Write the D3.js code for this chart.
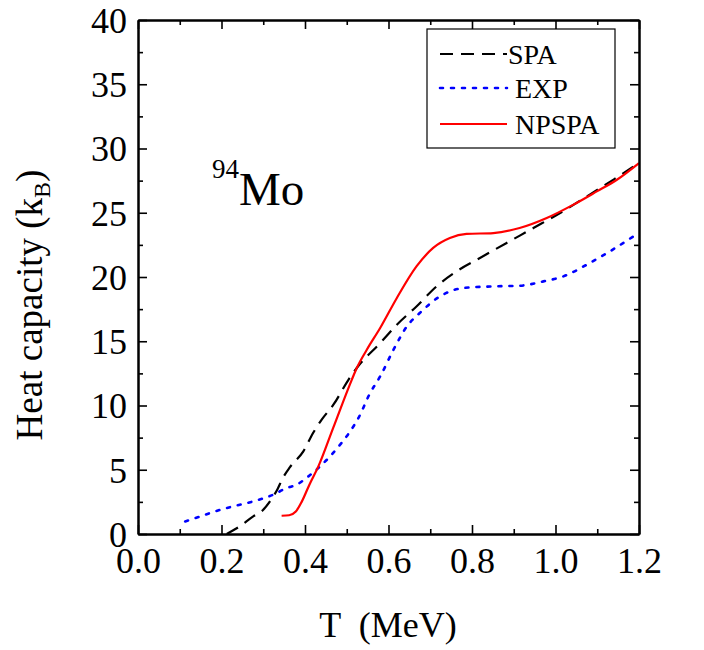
<!DOCTYPE html>
<html>
<head>
<meta charset="utf-8">
<script src="https://cdn.jsdelivr.net/npm/d3@7"></script>
<style>
  html, body { margin: 0; padding: 0; background: #fff; }
  svg { display: block; }
  svg text { font-family: "Liberation Serif", "Times New Roman", Times, serif !important; fill: #000; }
</style>
</head>
<body>
<svg id="chart" width="704" height="650"></svg>
<script>
// ---- data ----
const spaT = [0.2125, 0.244, 0.276, 0.296, 0.319, 0.335, 0.346, 0.364, 0.396, 0.42, 0.44, 0.468, 0.504, 0.524, 0.58, 0.62, 0.667, 0.715, 0.763, 0.819, 0.883, 0.947, 1.011, 1.075, 1.14, 1.2];
const spaC = [0.0, 0.6, 1.37, 1.76, 2.67, 3.55, 4.3, 5.2, 6.43, 7.9, 8.9, 10.06, 12.0, 12.92, 14.86, 16.29, 17.71, 19.27, 20.44, 21.48, 22.65, 23.81, 24.98, 26.27, 27.6, 28.87];

const expT = [0.113, 0.149, 0.18, 0.212, 0.244, 0.276, 0.324, 0.356, 0.38, 0.408, 0.432, 0.46, 0.484, 0.508, 0.528, 0.556, 0.58, 0.612, 0.644, 0.675, 0.723, 0.779, 0.851, 0.914, 0.971, 1.019, 1.075, 1.13, 1.2];
const expC = [0.98, 1.37, 1.71, 2.02, 2.28, 2.54, 3.06, 3.58, 3.84, 4.48, 5.14, 6.04, 6.95, 7.98, 9.03, 10.97, 12.26, 14.34, 16.16, 17.2, 18.49, 19.14, 19.27, 19.32, 19.66, 20.05, 20.96, 21.99, 23.45];

const npspaT = [0.344, 0.362, 0.378, 0.392, 0.41, 0.432, 0.468, 0.512, 0.524, 0.548, 0.58, 0.62, 0.667, 0.707, 0.747, 0.787, 0.851, 0.914, 0.979, 1.043, 1.099, 1.147, 1.2];
const npspaC = [1.42, 1.46, 1.75, 2.5, 3.8, 5.26, 8.3, 12.0, 12.92, 14.34, 16.03, 18.37, 20.82, 22.26, 23.03, 23.35, 23.42, 23.81, 24.59, 25.63, 26.66, 27.57, 28.87];

const xMajorTicks = [0.0, 0.2, 0.4, 0.6, 0.8, 1.0, 1.2];
const xMinorTicks = [0.1, 0.3, 0.5, 0.7, 0.9, 1.1];
const yMajorTicks = [0, 5, 10, 15, 20, 25, 30, 35, 40];
const yMinorTicks = [2.5, 7.5, 12.5, 17.5, 22.5, 27.5, 32.5, 37.5];

const seriesNames = ["SPA", "EXP", "NPSPA"];

// ---- layout ----
const FONT = "'Liberation Serif', 'Times New Roman', Times, serif";
const L = 138, R = 639, T = 20, B = 534;
const svg = d3.select("#chart");
const x = d3.scaleLinear().domain([0, 1.2]).range([L, R]);
const y = d3.scaleLinear().domain([0, 40]).range([B, T]);

const series = [
  { name: seriesNames[0], t: spaT, c: spaC, color: "#000000", dash: "13,8", width: 2.2 },
  { name: seriesNames[1], t: expT, c: expC, color: "#0000ff", dash: "3,8", width: 2.6 },
  { name: seriesNames[2], t: npspaT, c: npspaC, color: "#ff0000", dash: null, width: 2.2 }
];

// curves
const line = d3.line().x(d => x(d[0])).y(d => y(d[1])).curve(d3.curveMonotoneX);
series.forEach(s => {
  const pts = s.t.map((t, i) => [t, s.c[i]]);
  svg.append("path")
    .attr("d", line(pts))
    .attr("fill", "none")
    .attr("stroke", s.color)
    .attr("stroke-width", s.width)
    .attr("stroke-dasharray", s.dash)
    .attr("stroke-linecap", s.dash === "3,8" ? "round" : "butt");
});

// axes
function styleAxis(g) {
  g.attr("font-family", FONT);
  g.selectAll("path.domain").attr("stroke", "#000").attr("stroke-width", 2);
  g.selectAll(".tick line").attr("stroke", "#000").attr("stroke-width", 1.6);
}
const fmtX = d3.format(".1f");

const gb = svg.append("g").attr("transform", `translate(0,${B})`)
  .call(d3.axisBottom(x).tickValues(xMajorTicks).tickSize(-9).tickSizeOuter(0).tickFormat(fmtX));
styleAxis(gb);
gb.selectAll("text").attr("y", 39).attr("dy", 0).attr("font-size", 36);
const gbm = svg.append("g").attr("transform", `translate(0,${B})`)
  .call(d3.axisBottom(x).tickValues(xMinorTicks).tickSize(-5).tickSizeOuter(0).tickFormat(""));
styleAxis(gbm);

const gt = svg.append("g").attr("transform", `translate(0,${T})`)
  .call(d3.axisTop(x).tickValues(xMajorTicks).tickSize(-9).tickSizeOuter(0).tickFormat(""));
styleAxis(gt);
const gtm = svg.append("g").attr("transform", `translate(0,${T})`)
  .call(d3.axisTop(x).tickValues(xMinorTicks).tickSize(-5).tickSizeOuter(0).tickFormat(""));
styleAxis(gtm);

const gl = svg.append("g").attr("transform", `translate(${L},0)`)
  .call(d3.axisLeft(y).tickValues(yMajorTicks).tickSize(-9).tickSizeOuter(0).tickFormat(d3.format("d")));
styleAxis(gl);
gl.selectAll("text").attr("x", -11).attr("dy", "0.34em").attr("font-size", 36);
const glm = svg.append("g").attr("transform", `translate(${L},0)`)
  .call(d3.axisLeft(y).tickValues(yMinorTicks).tickSize(-5).tickSizeOuter(0).tickFormat(""));
styleAxis(glm);

const gr = svg.append("g").attr("transform", `translate(${R},0)`)
  .call(d3.axisRight(y).tickValues(yMajorTicks).tickSize(-9).tickSizeOuter(0).tickFormat(""));
styleAxis(gr);
const grm = svg.append("g").attr("transform", `translate(${R},0)`)
  .call(d3.axisRight(y).tickValues(yMinorTicks).tickSize(-5).tickSizeOuter(0).tickFormat(""));
styleAxis(grm);

// axis titles
svg.append("text")
  .attr("x", 388).attr("y", 637)
  .attr("text-anchor", "middle")
  .attr("font-family", FONT)
  .attr("font-size", 36)
  .attr("xml:space", "preserve")
  .style("white-space", "pre")
  .text("T  (MeV)");

const yt = svg.append("text")
  .attr("transform", "translate(42,305) rotate(-90)")
  .attr("text-anchor", "middle")
  .attr("font-family", FONT)
  .attr("font-size", 37);
yt.append("tspan").text("Heat capacity (k");
yt.append("tspan").attr("font-size", 24).attr("dy", 8).text("B");
yt.append("tspan").attr("dy", -8).text(")");

// nucleus label
const nl = svg.append("text").attr("x", 212).attr("y", 205).attr("font-family", FONT);
nl.append("tspan").attr("font-size", 27).attr("dy", -27).text("94");
nl.append("tspan").attr("font-size", 47).attr("dy", 27).text("Mo");

// legend
svg.append("rect")
  .attr("x", 427).attr("y", 29).attr("width", 188).attr("height", 119)
  .attr("fill", "#fff").attr("stroke", "#000").attr("stroke-width", 1.2);
const legY = [54, 88, 124];
const legTextX = [508, 515, 515];
series.forEach((s, i) => {
  svg.append("line")
    .attr("x1", 440).attr("x2", 507)
    .attr("y1", legY[i]).attr("y2", legY[i])
    .attr("stroke", s.color)
    .attr("stroke-width", s.width)
    .attr("stroke-dasharray", s.dash)
    .attr("stroke-linecap", s.dash === "3,8" ? "round" : "butt");
  svg.append("text")
    .attr("x", legTextX[i]).attr("y", legY[i] + 10)
    .attr("font-family", FONT)
    .attr("font-size", 28)
    .text(s.name);
});
</script>
</body>
</html>
